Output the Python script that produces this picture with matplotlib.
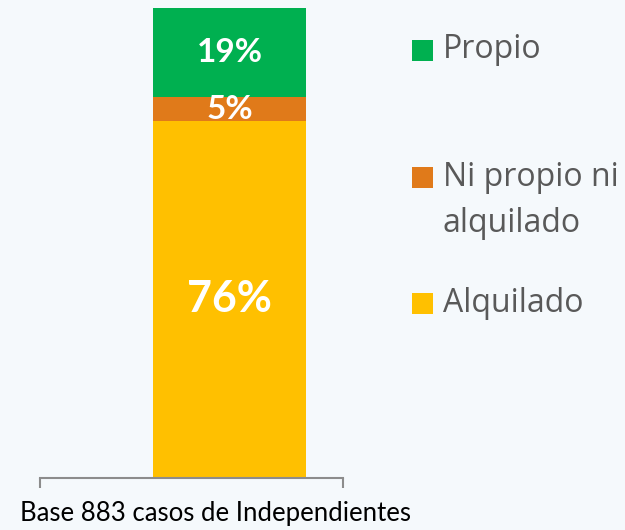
import matplotlib.pyplot as plt
from matplotlib.patches import Rectangle

# data
categories = ["Alquilado", "Ni propio ni\nalquilado", "Propio"]
values = [76, 5, 19]
colors = ["#FFC000", "#E07A1A", "#00B050"]
label_sizes = [31, 24, 24]
legend_y = [303, 177, 50]   # pixel rows of legend markers (top origin)
note = "Base 883 casos de Independientes"

W, H = 625, 530
fig = plt.figure(figsize=(W / 100, H / 100), dpi=100)
fig.patch.set_facecolor("#f5f9fc")

ax = fig.add_axes([40 / W, (H - 478) / H, 303 / W, 470 / H])
ax.set_facecolor("none")

bottom = 0
for cat, v, c, fs in zip(categories, values, colors, label_sizes):
    ax.bar(0, v, width=0.5, bottom=bottom, color=c, edgecolor="none")
    ax.text(0, bottom + v / 2, f"{v}%", ha="center", va="center",
            color="white", fontsize=fs, fontweight="bold", family="Lato")
    bottom += v

ax.set_xlim(-0.619, 0.371)
ax.set_ylim(0, 100)
for s in ["top", "right", "left"]:
    ax.spines[s].set_visible(False)
ax.spines["bottom"].set_color("#8c8c8c")
ax.spines["bottom"].set_linewidth(1.5)
ax.set_yticks([])
ax.set_xticks([-0.619, 0.371])
ax.set_xticklabels([])
ax.tick_params(axis="x", length=7, width=1.5, color="#8c8c8c", direction="out")

# legend drawn by hand
for cat, c, y in zip(categories, colors, legend_y):
    fig.patches.append(Rectangle((412 / W, (H - y - 11) / H), 21 / W, 21 / H,
                                 transform=fig.transFigure, facecolor=c,
                                 edgecolor="none"))
    for i, line in enumerate(cat.split("\n")):
        fig.text(443 / W, (H - y - 46 * i) / H, line, ha="left", va="center",
                 fontsize=23, color="#595959", family="Open Sans")

fig.text(20 / W, (H - 513) / H, note, ha="left", va="center",
         fontsize=18.5, color="black", family="Lato")

fig.savefig("out.png", dpi=100, facecolor=fig.get_facecolor())
